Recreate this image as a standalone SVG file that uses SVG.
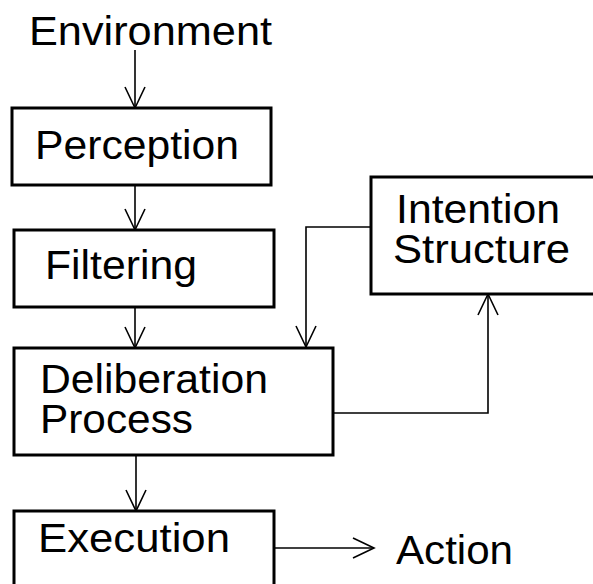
<svg xmlns="http://www.w3.org/2000/svg" width="593" height="584" viewBox="0 0 593 584">
<style>
.box{fill:#fff;stroke:#000;stroke-width:3}
.t{font-family:"Liberation Sans",Arial,sans-serif;font-size:40px;fill:#000}
.c{fill:none;stroke:#000;stroke-width:1.6}
</style>
<defs>
<marker id="v" viewBox="-22 -11 24 22" markerWidth="24" markerHeight="22" refX="0" refY="0" orient="auto" markerUnits="userSpaceOnUse">
<path d="M-21,-10 L0,0 L-21,10" fill="none" stroke="#000" stroke-width="1.6"/>
</marker>
</defs>
<rect width="593" height="584" fill="#fff"/>
<g id="connectors">
<line class="c" x1="135" y1="50" x2="135" y2="108" marker-end="url(#v)"/>
<line class="c" x1="135" y1="185" x2="135" y2="230" marker-end="url(#v)"/>
<line class="c" x1="135" y1="308" x2="135" y2="348" marker-end="url(#v)"/>
<line class="c" x1="136" y1="455" x2="136" y2="511" marker-end="url(#v)"/>
<polyline class="c" points="371,227 306,227 306,347" marker-end="url(#v)"/>
<polyline class="c" points="333,413 488,413 488,294" marker-end="url(#v)"/>
<line class="c" x1="274" y1="548" x2="374" y2="548" marker-end="url(#v)"/>
</g>
<g id="environment"><text class="t" x="29" y="45" textLength="243" lengthAdjust="spacingAndGlyphs">Environment</text></g>
<g id="perception"><rect class="box" x="12" y="108" width="259" height="77"/><text class="t" x="35" y="159" textLength="204" lengthAdjust="spacingAndGlyphs">Perception</text></g>
<g id="filtering"><rect class="box" x="14" y="230" width="260" height="77"/><text class="t" x="45" y="279" textLength="152" lengthAdjust="spacingAndGlyphs">Filtering</text></g>
<g id="intention"><rect class="box" x="371" y="177" width="240" height="117"/><text class="t" x="396" y="223" textLength="164" lengthAdjust="spacingAndGlyphs">Intention</text><text class="t" x="393" y="263" textLength="177" lengthAdjust="spacingAndGlyphs">Structure</text></g>
<g id="deliberation"><rect class="box" x="14" y="348" width="319" height="107"/><text class="t" x="40" y="393" textLength="228" lengthAdjust="spacingAndGlyphs">Deliberation</text><text class="t" x="40" y="433" textLength="153" lengthAdjust="spacingAndGlyphs">Process</text></g>
<g id="execution"><rect class="box" x="14" y="511" width="260" height="100"/><text class="t" x="38" y="552" textLength="192" lengthAdjust="spacingAndGlyphs">Execution</text></g>
<g id="action"><text class="t" x="396" y="564" textLength="117" lengthAdjust="spacingAndGlyphs">Action</text></g>
</svg>
